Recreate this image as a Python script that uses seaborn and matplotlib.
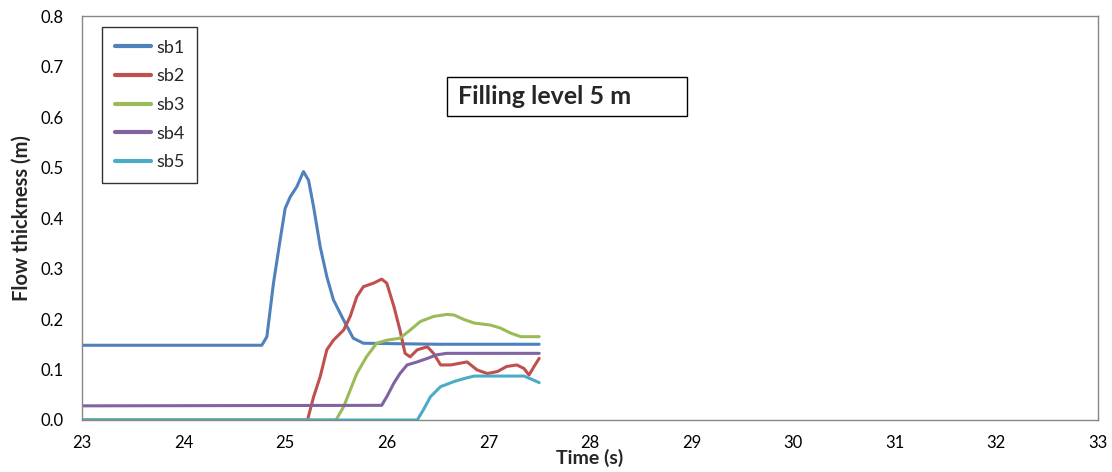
import matplotlib
matplotlib.use("Agg")
import matplotlib.pyplot as plt
from matplotlib.ticker import MultipleLocator, FormatStrFormatter
from matplotlib.patches import Rectangle
import seaborn as sns
import pandas as pd

series_names = ["sb1", "sb2", "sb3", "sb4", "sb5"]
colors = ["#4F81BD", "#C0504D", "#9BBB59", "#8064A2", "#4BACC6"]

sb1_t = [23.0, 24.0, 24.77, 24.82, 24.885, 24.95, 25.0, 25.05, 25.115, 25.18, 25.23, 25.28,
         25.345, 25.41, 25.475, 25.575, 25.67, 25.77, 26.5, 27.5]
sb1_v = [0.148, 0.148, 0.148, 0.165, 0.271, 0.356, 0.419, 0.442, 0.462, 0.492, 0.475, 0.422,
         0.343, 0.284, 0.238, 0.198, 0.162, 0.152, 0.150, 0.150]

sb2_t = [23.0, 25.22, 25.28, 25.345, 25.41, 25.475, 25.575, 25.64, 25.705, 25.77, 25.87, 25.95,
         26.0, 26.07, 26.13, 26.18, 26.23, 26.30, 26.40, 26.46, 26.53, 26.63, 26.79, 26.89,
         26.99, 27.09, 27.18, 27.28, 27.35, 27.40, 27.45, 27.50]
sb2_v = [0.0, 0.0, 0.046, 0.086, 0.139, 0.158, 0.178, 0.205, 0.244, 0.264, 0.271, 0.279,
         0.271, 0.225, 0.178, 0.132, 0.125, 0.139, 0.145, 0.132, 0.109, 0.109, 0.115, 0.099,
         0.092, 0.096, 0.106, 0.109, 0.102, 0.089, 0.106, 0.122]

sb3_t = [23.0, 25.50, 25.575, 25.64, 25.705, 25.80, 25.90, 26.0, 26.13, 26.23, 26.33, 26.46,
         26.59, 26.66, 26.76, 26.86, 27.02, 27.12, 27.22, 27.32, 27.5]
sb3_v = [0.0, 0.0, 0.026, 0.059, 0.092, 0.125, 0.152, 0.158, 0.162, 0.178, 0.195, 0.205,
         0.209, 0.208, 0.199, 0.192, 0.188, 0.182, 0.172, 0.165, 0.165]

sb4_t = [23.0, 25.95, 26.0, 26.07, 26.13, 26.20, 26.30, 26.40, 26.49, 26.59, 27.5]
sb4_v = [0.028, 0.029, 0.046, 0.073, 0.092, 0.109, 0.115, 0.122, 0.129, 0.132, 0.132]

sb5_t = [23.0, 26.30, 26.36, 26.43, 26.53, 26.66, 26.76, 26.86, 27.35, 27.41, 27.5]
sb5_v = [0.0, 0.0, 0.020, 0.046, 0.066, 0.076, 0.082, 0.087, 0.087, 0.082, 0.074]

x_ticks = list(range(23, 34))
y_ticks = [0.0, 0.1, 0.2, 0.3, 0.4, 0.5, 0.6, 0.7, 0.8]

title_text = "Filling level 5 m"
x_label = "Time (s)"
y_label = "Flow thickness (m)"

rows = []
for name, ts, vs in zip(series_names,
                        [sb1_t, sb2_t, sb3_t, sb4_t, sb5_t],
                        [sb1_v, sb2_v, sb3_v, sb4_v, sb5_v]):
    for t, v in zip(ts, vs):
        rows.append({"t": t, "v": v, "series": name})
df = pd.DataFrame(rows)

sns.set_theme(style="white")
plt.rcParams["font.family"] = ["Lato", "DejaVu Sans"]

fig = plt.figure(figsize=(11.12, 4.72), dpi=100)
ax = fig.add_axes([0.0737, 0.1102, 0.9137, 0.8558])

sns.lineplot(data=df, x="t", y="v", hue="series", hue_order=series_names,
             palette=colors, sort=False, estimator=None, linewidth=2.2, ax=ax)

ax.set_xlim(23, 33)
ax.set_ylim(0, 0.8)
ax.set_xticks(x_ticks)
ax.set_yticks(y_ticks)
ax.yaxis.set_major_formatter(FormatStrFormatter("%.1f"))
ax.xaxis.set_minor_locator(MultipleLocator(0.2))
ax.yaxis.set_minor_locator(MultipleLocator(0.02))
ax.tick_params(axis="both", which="major", direction="out", length=3.5, width=1,
               color="#868686", labelsize=12, labelcolor="black")
ax.tick_params(axis="y", which="major", pad=10)
ax.tick_params(axis="x", which="major", pad=7)
ax.tick_params(axis="both", which="minor", direction="in", length=3.5, width=0.8,
               color="#868686")
for s in ax.spines.values():
    s.set_color("#868686")
    s.set_linewidth(1.0)

ax.set_xlabel(x_label, fontsize=14, fontweight="bold", labelpad=-1)
ax.set_ylabel(y_label, fontsize=14.5, fontweight="bold", labelpad=6)

leg = ax.legend(loc="upper left", bbox_to_anchor=(0.0197, 0.973), borderaxespad=0,
                fontsize=13, frameon=True, fancybox=False, handlelength=2.0,
                labelspacing=0.7, borderpad=0.7, handletextpad=0.3)
leg.get_frame().set_edgecolor("black")
leg.get_frame().set_linewidth(1.0)
for line in leg.get_lines():
    line.set_linewidth(3)

ax.add_patch(Rectangle((0.359, 0.752), 0.2365, 0.097, transform=ax.transAxes,
                       facecolor="white", edgecolor="black", linewidth=1.0, zorder=5))
ax.text(0.370, 0.800, title_text, transform=ax.transAxes, fontsize=18,
        fontweight="bold", ha="left", va="center", zorder=6)

fig.savefig("out.png", dpi=100)
